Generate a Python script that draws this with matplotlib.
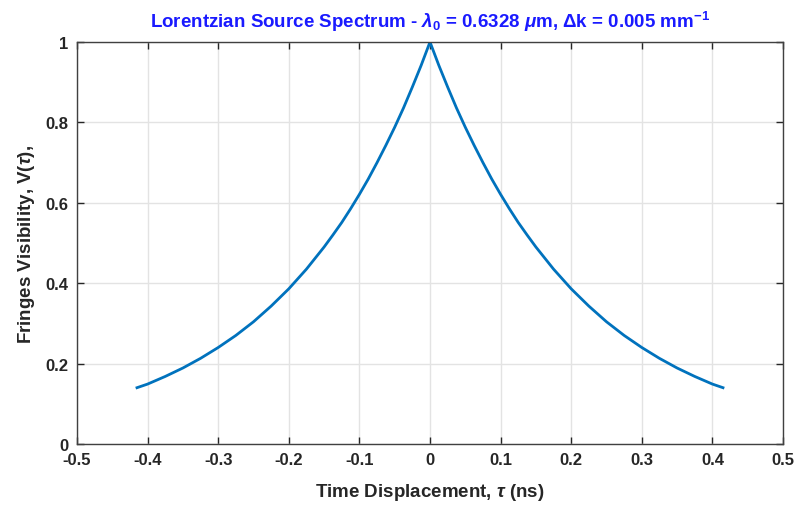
import numpy as np
import matplotlib
matplotlib.use("Agg")
from matplotlib import pyplot as plt

# visibility (positive half, mirrored for tau < 0)
tau_pos = [0.0, 0.0125, 0.025, 0.0375, 0.05, 0.0625, 0.075, 0.0875, 0.1, 0.1125,
           0.125, 0.1375, 0.15, 0.175, 0.2, 0.225, 0.25, 0.275, 0.3, 0.325,
           0.35, 0.375, 0.4, 0.415]
vis_pos = [1.0, 0.942, 0.888, 0.836, 0.788, 0.743, 0.700, 0.659, 0.621, 0.585,
           0.551, 0.520, 0.490, 0.435, 0.386, 0.343, 0.304, 0.270, 0.240, 0.213,
           0.189, 0.168, 0.149, 0.140]
xticks = [-0.5, -0.4, -0.3, -0.2, -0.1, 0, 0.1, 0.2, 0.3, 0.4, 0.5]
xticklabels = ["-0.5", "-0.4", "-0.3", "-0.2", "-0.1", "0", "0.1", "0.2", "0.3", "0.4", "0.5"]
yticks = [0, 0.2, 0.4, 0.6, 0.8, 1]
yticklabels = ["0", "0.2", "0.4", "0.6", "0.8", "1"]

plt.rcParams['font.family'] = ['Liberation Sans', 'DejaVu Sans']
plt.rcParams['font.weight'] = 'bold'
plt.rcParams['axes.labelweight'] = 'bold'
plt.rcParams['axes.titleweight'] = 'bold'
plt.rcParams['mathtext.fontset'] = 'custom'
plt.rcParams['mathtext.rm'] = 'Liberation Sans:bold'
plt.rcParams['mathtext.it'] = 'Liberation Sans:italic'
plt.rcParams['mathtext.bf'] = 'Liberation Sans:bold'
plt.rcParams['mathtext.sf'] = 'Liberation Sans:bold'

tau = np.array([-t for t in tau_pos[::-1]] + tau_pos[1:])
vis = np.array(vis_pos[::-1] + vis_pos[1:])

fig = plt.figure(figsize=(8.12, 5.06), dpi=100)
ax = fig.add_axes([0.0948, 0.1206, 0.8695, 0.7944])

ax.plot(tau, vis, color="#0072BD", linewidth=2)

ax.set_xlim(-0.5, 0.5)
ax.set_ylim(0, 1)
ax.set_xticks(xticks)
ax.set_xticklabels(xticklabels)
ax.set_yticks(yticks)
ax.set_yticklabels(yticklabels)
ax.grid(True, color="#e3e3e3", linewidth=1)
ax.set_axisbelow(True)
ax.tick_params(direction="in", length=5, width=1, top=True, right=True,
               labelsize=12, colors="#262626", pad=6)
for s in ax.spines.values():
    s.set_color("#404040")
    s.set_linewidth(1)

ax.set_title(r"Lorentzian Source Spectrum - $\lambda_0$ = 0.6328 $\mu$m, $\Delta$k = 0.005 mm$^{-1}$",
             color="#1a1aff", fontsize=13.5, fontweight="bold", pad=11)
ax.set_xlabel(r"Time Displacement, $\mathit{\tau}$ (ns)", fontsize=13.5, color="#262626", labelpad=10)
ax.set_ylabel(r"Fringes Visibility, V($\mathit{\tau}$),", fontsize=13.5, color="#262626", labelpad=6)

fig.savefig("out.png", dpi=100)
